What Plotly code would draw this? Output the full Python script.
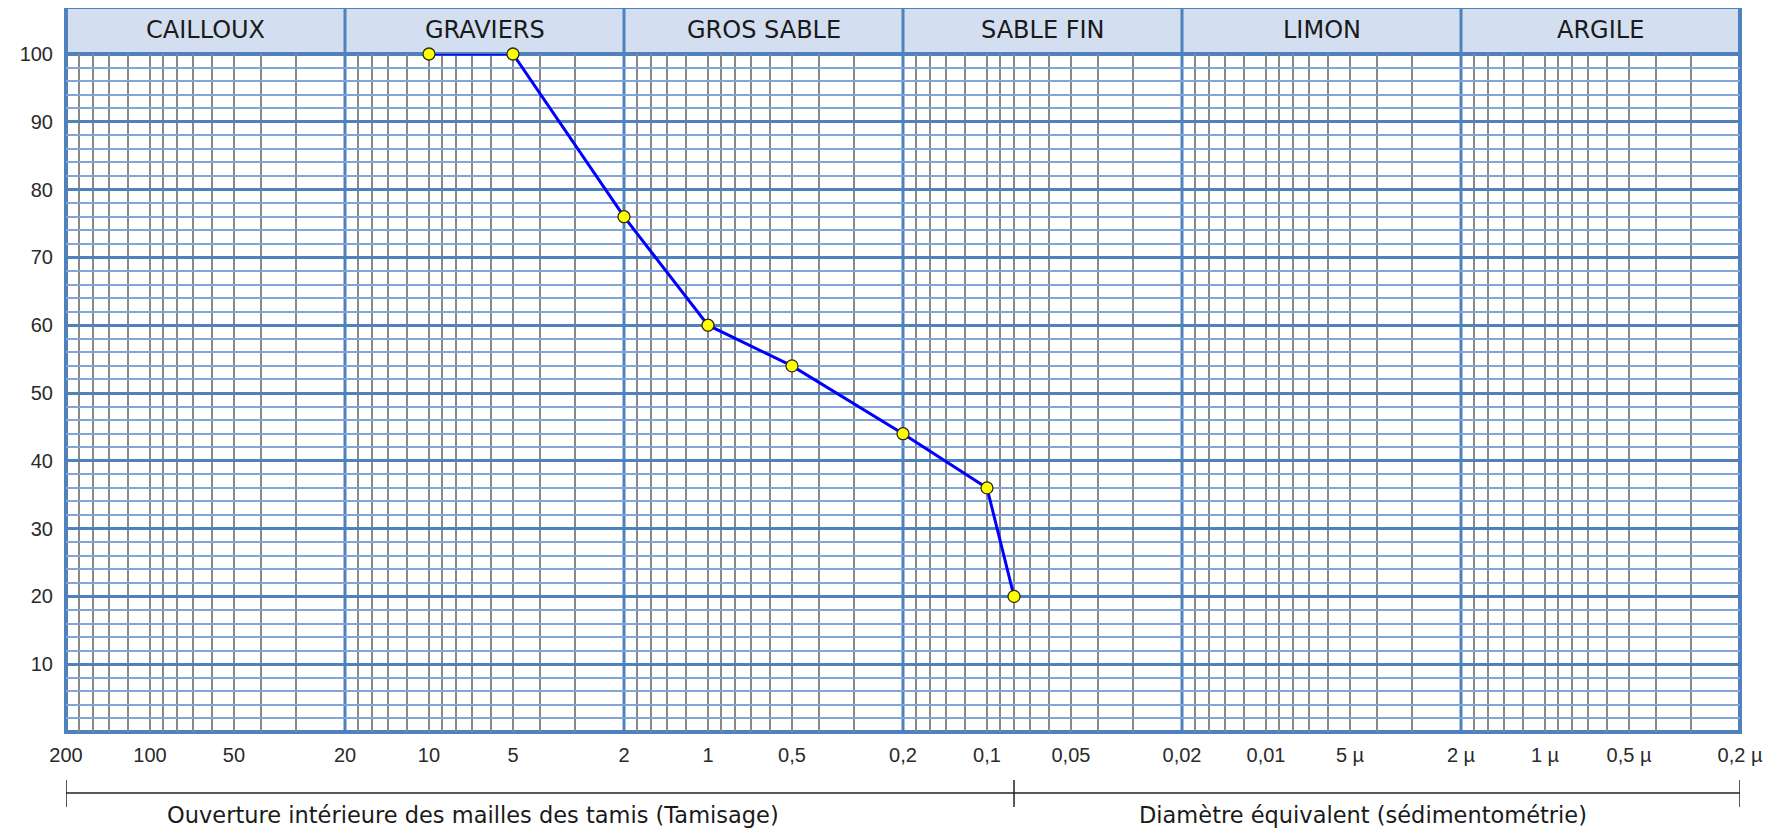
import math
import plotly.graph_objects as go

# courbe granulométrique
diametres = [10, 5, 2, 1, 0.5, 0.2, 0.1, 0.08]          # mm
passants = [100, 100, 76, 60, 54, 44, 36, 20]           # %

# graduations de l'axe des diamètres
tick_vals = [200, 100, 50, 20, 10, 5, 2, 1, 0.5, 0.2, 0.1, 0.05, 0.02,
             0.01, 0.005, 0.002, 0.001, 0.0005, 0.0002]
tick_text = ["200", "100", "50", "20", "10", "5", "2", "1", "0,5", "0,2",
             "0,1", "0,05", "0,02", "0,01", "5 µ", "2 µ", "1 µ", "0,5 µ", "0,2 µ"]

# limites des classes
limites = [200, 20, 2, 0.2, 0.02, 0.002, 0.0002]
classes = ["CAILLOUX", "GRAVIERS", "GROS SABLE", "SABLE FIN", "LIMON", "ARGILE"]
limite_tamisage = 0.08

y_vals = [10, 20, 30, 40, 50, 60, 70, 80, 90, 100]

BLEU = "#4f81bd"
BLEU_CLAIR = "#7fa6d6"
GRIS = "#888888"
FOND_TITRE = "#d3dff0"

# la page ajoute 8 px de marge autour du graphique
OFF = 8
W, H = 1791 - OFF, 830 - OFF
ML, MR, MT, MB = 61 - OFF, 51, 54 - OFF, 98
PH = H - MT - MB


def py(p):
    # pixel vertical (fenêtre) -> coordonnée paper
    return (H - MB - (p - OFF)) / PH


def px(p):
    # pixel horizontal (fenêtre) -> coordonnée paper
    return (p - OFF - ML) / (W - ML - MR)


# grille secondaire verticale
mantisses = [1.8, 1.6, 1.4, 1.2, 1.0, 0.9, 0.8, 0.7, 0.6, 0.5, 0.4, 0.3]
minor_x = []
for d in limites[:-1]:
    k = d / 2
    for m in mantisses:
        minor_x.append(m * k)

fig = go.Figure()
fig.add_trace(go.Scatter(
    x=diametres, y=passants, mode="lines+markers",
    line=dict(color="#0000ff", width=3),
    marker=dict(symbol="circle", size=12, color="#ffff00",
                line=dict(color="#2e2e10", width=1.3)),
    showlegend=False, cliponaxis=False
))

haut_titre = py(7)
shapes = []
# bandeau des classes
shapes.append(dict(type="rect", xref="paper", yref="paper", x0=0, x1=1,
                   y0=1, y1=haut_titre, fillcolor=FOND_TITRE,
                   line=dict(color=BLEU, width=4), layer="below"))
# limites des classes
for d in limites:
    shapes.append(dict(type="line", xref="x", yref="paper", x0=d, x1=d,
                       y0=0, y1=haut_titre, line=dict(color=BLEU, width=3),
                       layer="between"))
# cadre
shapes.append(dict(type="rect", xref="paper", yref="paper", x0=0, x1=1,
                   y0=0, y1=1, line=dict(color=BLEU, width=4),
                   layer="between"))
# accolade du bas
ligne_y = py(793)
shapes.append(dict(type="line", xref="x", yref="paper", x0=limites[0],
                   x1=limites[-1], y0=ligne_y, y1=ligne_y,
                   line=dict(color="#222222", width=1.5)))
for d in [limites[0], limite_tamisage, limites[-1]]:
    shapes.append(dict(type="line", xref="x", yref="paper", x0=d, x1=d,
                       y0=py(780), y1=py(807),
                       line=dict(color="#222222", width=1.5)))

annotations = []
for i, nom in enumerate(classes):
    centre = (math.log10(limites[i]) + math.log10(limites[i + 1])) / 2
    annotations.append(dict(x=centre, y=py(30), xref="x", yref="paper",
                            xanchor="center", yanchor="middle",
                            text=nom, showarrow=False,
                            font=dict(family="DejaVu Sans", size=24,
                                      color="#1a1a1a")))
annotations.append(dict(x=px(469), y=py(815), xref="paper", yref="paper",
                        xanchor="center", yanchor="middle", showarrow=False,
                        text="Ouverture intérieure des mailles des tamis (Tamisage)",
                        font=dict(family="DejaVu Sans", size=22.5, color="#1a1a1a")))
annotations.append(dict(x=px(1362), y=py(815), xref="paper", yref="paper",
                        xanchor="center", yanchor="middle", showarrow=False,
                        text="Diamètre équivalent (sédimentométrie)",
                        font=dict(family="DejaVu Sans", size=22.5, color="#1a1a1a")))

fig.update_layout(
    width=W, height=H,
    margin=dict(l=ML, r=MR, t=MT, b=MB, pad=0),
    paper_bgcolor="white", plot_bgcolor="white",
    shapes=shapes, annotations=annotations,
    font=dict(family="Liberation Sans, Arial", size=20, color="#2a2a2a"),
    xaxis=dict(
        type="log",
        range=[math.log10(limites[0]), math.log10(limites[-1])],
        tickmode="array", tickvals=tick_vals, ticktext=tick_text,
        showgrid=False, zeroline=False, showline=False,
        ticks="", ticklabelstandoff=9,
        minor=dict(tickmode="array", tickvals=minor_x, showgrid=True,
                   gridcolor=GRIS, gridwidth=2, ticks=""),
    ),
    yaxis=dict(
        range=[0, 100],
        tickmode="array", tickvals=y_vals,
        showgrid=True, gridcolor=BLEU, gridwidth=3,
        zeroline=False, showline=False, ticks="", ticklabelstandoff=12,
        minor=dict(dtick=2, showgrid=True, gridcolor=BLEU_CLAIR, gridwidth=2,
                   ticks=""),
    ),
)

fig.write_html("out.html")
